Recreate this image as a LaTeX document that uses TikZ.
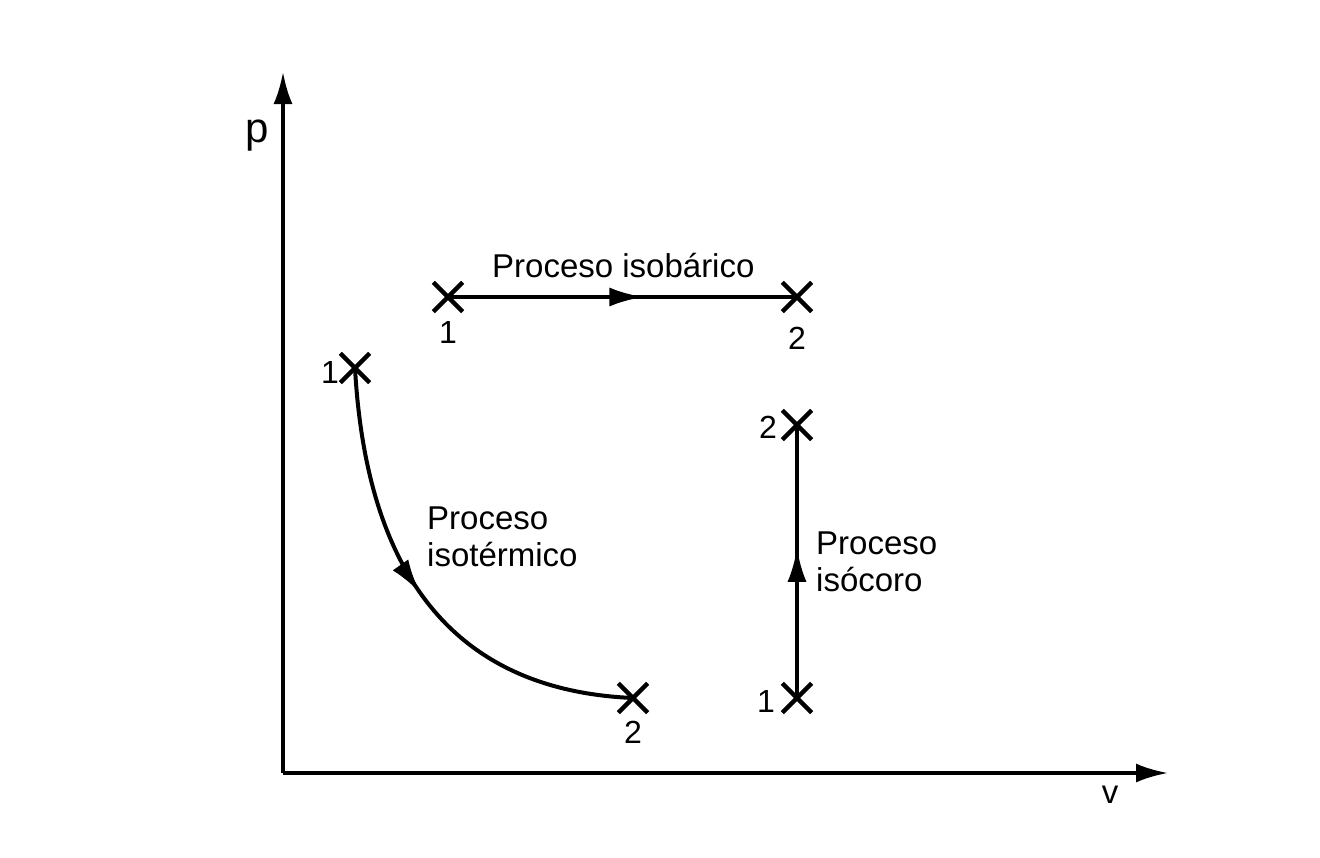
\documentclass[tikz,border=0pt]{standalone}
\usepackage{fontspec}
\setmainfont{Liberation Sans}
\usetikzlibrary{arrows.meta,shapes.misc,decorations.markings}
\tikzset{
  xmark/.style={shape=cross out,draw,minimum size=25pt,inner sep=0pt,line width=4.3pt},
  lbl/.style={font=\fontsize{33}{37}\selectfont,inner sep=0pt},
  num/.style={font=\fontsize{32}{36}\selectfont,inner sep=0pt},
  axis/.style={line width=3.6pt,-{Latex[length=32pt,width=19pt]}},
  proc/.style={line width=4pt},
  midarrow/.style={postaction={decorate},decoration={markings,
     mark=at position #1 with {\arrow{Latex[length=34pt,width=19pt]}}}}
}
\begin{document}
\begin{tikzpicture}[x=1pt,y=-1pt]
\useasboundingbox (0,0) rectangle (1320,857);
% axes
\coordinate (O) at (283,773);
\coordinate (ytip) at (283,72);
\coordinate (xtip) at (1168,773);
\draw[axis] (O) -- (ytip);
\draw[axis] (O) -- (xtip);
\node[font=\fontsize{42}{46}\selectfont,inner sep=0pt,anchor=base] (plbl) at (257,142) {p};
\node[lbl,anchor=base] (vlbl) at (1110,803) {v};
% isobaric
\node[xmark] (b1) at (448,297) {};
\node[xmark] (b2) at (797,297) {};
\draw[proc,midarrow=0.56] (b1.center) -- (b2.center);
\node[lbl,anchor=base west] (blbl) at (492,277) {Proceso isobárico};
\node[num] (b1n) at (448,332) {1};
\node[num] (b2n) at (797,338) {2};
% isothermal
\node[xmark] (t1) at (355,368) {};
\node[xmark] (t2) at (633,698) {};
\draw[proc,midarrow=0.49] (t1.center) .. controls (366,565) and (447,690) .. (t2.center);
\node[lbl,anchor=base west,align=left] (tlbl) at (427,566) {Proceso\\isotérmico};
\node[num] (t1n) at (330,372) {1};
\node[num] (t2n) at (633,732) {2};
% isochoric
\node[xmark] (c1) at (797,698) {};
\node[xmark] (c2) at (797,425) {};
\draw[proc,midarrow=0.55] (c1.center) -- (c2.center);
\node[lbl,anchor=base west,align=left] (clbl) at (816,591) {Proceso\\isócoro};
\node[num] (c1n) at (766,701) {1};
\node[num] (c2n) at (768,427) {2};
\end{tikzpicture}
\end{document}
